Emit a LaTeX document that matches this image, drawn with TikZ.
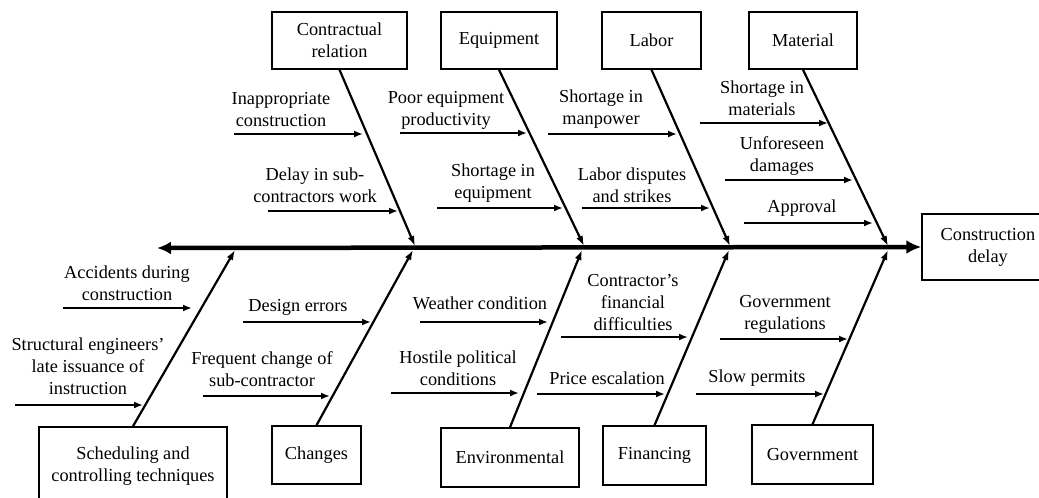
\documentclass[tikz,border=0pt]{standalone}
\usepackage{fontspec}
\setmainfont{Liberation Serif}
\usetikzlibrary{arrows.meta, positioning}

\begin{document}
\begin{tikzpicture}[
         x=1pt, y=-1pt,
         every node/.style={font=\fontsize{18.3}{22}\selectfont},
         category/.style={draw, line width=1.5pt, align=center, inner sep=0pt},
         cause/.style={align=center, inner sep=0pt},
         bone/.style={line width=2.2pt, -{Latex[length=10pt,width=7pt]}},
         sub/.style={line width=2pt, -{Latex[length=9pt,width=7pt]}},
         spine/.style={line width=4.5pt, {Latex[length=14pt,width=13pt]}-{Latex[length=15pt,width=14pt]}}
      ]
         \useasboundingbox (0,0) rectangle (1039,498);

         % Effect and spine
         \node[category, minimum width=132pt, minimum height=66pt] (delay) at (988,247) {Construction\\delay};
         \coordinate (tail) at (157,248);
         \draw[spine] (tail) -- (delay.west);

         % Categories above the spine
         \node[category, minimum width=135pt, minimum height=57pt] (contract) at (339.5,40.5) {Contractual\\relation};
         \node[category, minimum width=116pt, minimum height=57pt] (equip) at (499,40.5) {Equipment};
         \node[category, minimum width=99pt, minimum height=57pt] (labor) at (651.5,40.5) {Labor};
         \node[category, minimum width=108pt, minimum height=57pt] (material) at (803,40.5) {Material};

         % Categories below the spine
         \node[category, minimum width=188pt, minimum height=79pt] (sched) at (133,466.5) {Scheduling and\\controlling techniques};
         \node[category, minimum width=89pt, minimum height=58pt] (changes) at (316.5,455) {Changes};
         \node[category, minimum width=138pt, minimum height=59pt] (environ) at (510,457.5) {Environmental};
         \node[category, minimum width=103pt, minimum height=59pt] (finance) at (654.5,455.5) {Financing};
         \node[category, minimum width=121pt, minimum height=59pt] (govern) at (812.5,454.5) {Government};

         % Where the bones meet the spine
         \coordinate (contract-end) at (415,246);
         \coordinate (equip-end) at (584,246);
         \coordinate (labor-end) at (730,246);
         \coordinate (material-end) at (888,246);
         \coordinate (sched-end) at (235,250);
         \coordinate (changes-end) at (413,250);
         \coordinate (environ-end) at (582,250);
         \coordinate (finance-end) at (729,250);
         \coordinate (govern-end) at (888,250);

         % Bones
         \draw[bone] (contract.south) -- (contract-end);
         \draw[bone] (equip.south) -- (equip-end);
         \draw[bone] (labor.south) -- (labor-end);
         \draw[bone] (material.south) -- (material-end);
         \draw[bone] (sched.north) -- (sched-end);
         \draw[bone] (changes.north) -- (changes-end);
         \draw[bone] (environ.north) -- (environ-end);
         \draw[bone] (finance.north) -- (finance-end);
         \draw[bone] (govern.north) -- (govern-end);

         % Contractual relation causes
         \node[cause] (inapp) at (281,109.5) {Inappropriate\\construction};
         \coordinate (inapp-a) at (234,134); \coordinate (inapp-b) at (363,134);
         \draw[sub] (inapp-a) -- (inapp-b);
         \node[cause] (subwork) at (315,185) {Delay in sub-\\contractors work};
         \coordinate (subwork-a) at (268,211); \coordinate (subwork-b) at (398,211);
         \draw[sub] (subwork-a) -- (subwork-b);

         % Equipment causes
         \node[cause] (poorequip) at (446,110) {Poor equipment\\productivity};
         \coordinate (poorequip-a) at (400,133); \coordinate (poorequip-b) at (527,133);
         \draw[sub] (poorequip-a) -- (poorequip-b);
         \node[cause] (shortequip) at (493,183.5) {Shortage in\\equipment};
         \coordinate (shortequip-a) at (437,208); \coordinate (shortequip-b) at (563,208);
         \draw[sub] (shortequip-a) -- (shortequip-b);

         % Labor causes
         \node[cause] (manpower) at (601,109.5) {Shortage in\\manpower};
         \coordinate (manpower-a) at (548,134); \coordinate (manpower-b) at (677,134);
         \draw[sub] (manpower-a) -- (manpower-b);
         \node[cause] (strikes) at (632,185) {Labor disputes\\and strikes};
         \coordinate (strikes-a) at (582,208); \coordinate (strikes-b) at (710,208);
         \draw[sub] (strikes-a) -- (strikes-b);

         % Material causes
         \node[cause] (shortmat) at (762,98.5) {Shortage in\\materials};
         \coordinate (shortmat-a) at (700,123); \coordinate (shortmat-b) at (828,123);
         \draw[sub] (shortmat-a) -- (shortmat-b);
         \node[cause] (damages) at (782,156.5) {Unforeseen\\damages};
         \coordinate (damages-a) at (725,180); \coordinate (damages-b) at (853,180);
         \draw[sub] (damages-a) -- (damages-b);
         \node[cause] (approval) at (802,208) {Approval};
         \coordinate (approval-a) at (744,223); \coordinate (approval-b) at (873,223);
         \draw[sub] (approval-a) -- (approval-b);

         % Scheduling causes
         \node[cause] (accidents) at (127,283) {Accidents during\\construction};
         \coordinate (accidents-a) at (63,308); \coordinate (accidents-b) at (192,308);
         \draw[sub] (accidents-a) -- (accidents-b);
         \node[cause] (issuance) at (88,366) {Structural engineers'\\late issuance of\\instruction};
         \coordinate (issuance-a) at (15,405); \coordinate (issuance-b) at (143,405);
         \draw[sub] (issuance-a) -- (issuance-b);

         % Changes causes
         \node[cause] (design) at (298,307) {Design errors};
         \coordinate (design-a) at (243,322); \coordinate (design-b) at (371,322);
         \draw[sub] (design-a) -- (design-b);
         \node[cause] (subchange) at (262,369.5) {Frequent change of\\sub-contractor};
         \coordinate (subchange-a) at (203,396); \coordinate (subchange-b) at (330,396);
         \draw[sub] (subchange-a) -- (subchange-b);

         % Environmental causes
         \node[cause] (weather) at (480,303) {Weather condition};
         \coordinate (weather-a) at (420,322); \coordinate (weather-b) at (548,322);
         \draw[sub] (weather-a) -- (weather-b);
         \node[cause] (hostile) at (458,368) {Hostile political\\conditions};
         \coordinate (hostile-a) at (391,393); \coordinate (hostile-b) at (519,393);
         \draw[sub] (hostile-a) -- (hostile-b);

         % Financing causes
         \node[cause] (difficult) at (633,302) {Contractor's\\financial\\difficulties};
         \coordinate (difficult-a) at (561,337); \coordinate (difficult-b) at (688,337);
         \draw[sub] (difficult-a) -- (difficult-b);
         \node[cause] (price) at (607,378) {Price escalation};
         \coordinate (price-a) at (537,394); \coordinate (price-b) at (665,394);
         \draw[sub] (price-a) -- (price-b);

         % Government causes
         \node[cause] (regul) at (785,314.5) {Government\\regulations};
         \coordinate (regul-a) at (720,339); \coordinate (regul-b) at (848,339);
         \draw[sub] (regul-a) -- (regul-b);
         \node[cause] (permits) at (757,378) {Slow permits};
         \coordinate (permits-a) at (696,394); \coordinate (permits-b) at (824,394);
         \draw[sub] (permits-a) -- (permits-b);

      \end{tikzpicture}
\end{document}
